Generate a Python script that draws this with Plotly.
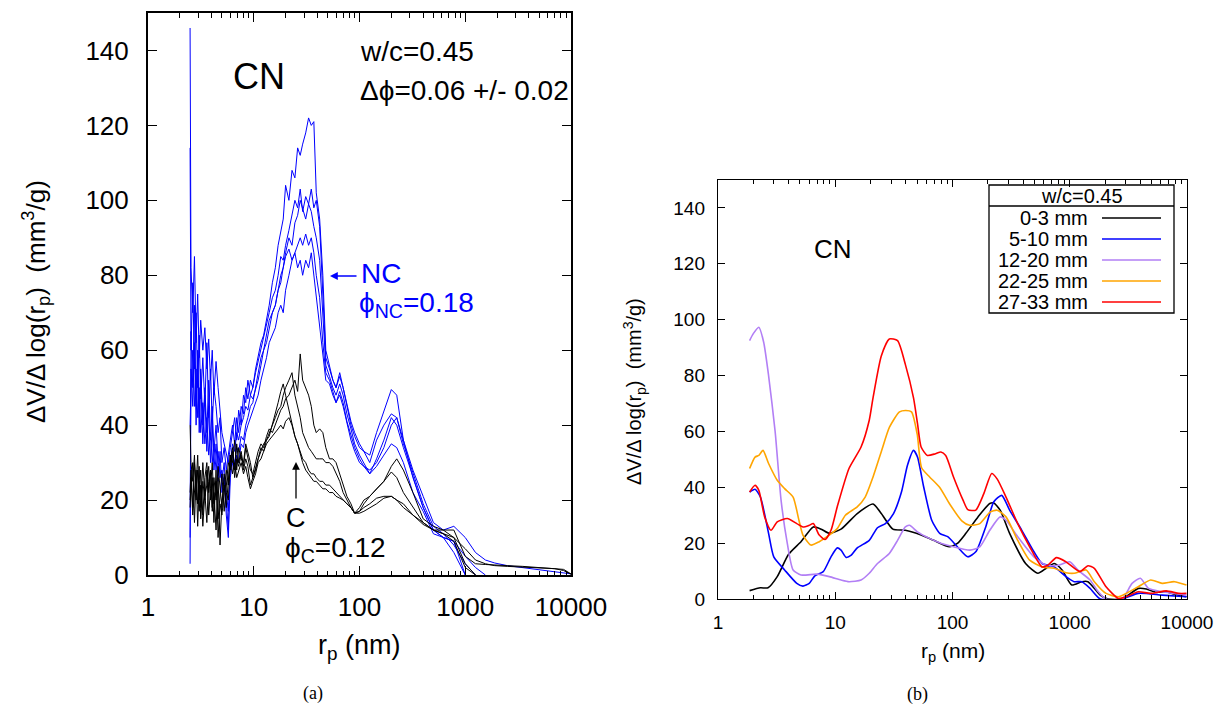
import plotly.graph_objects as go

# ---------------- data ----------------
# (a) pore-size distributions, mercury intrusion, 9 samples on a shared radius grid (nm)
r_left = [
    2.5, 2.55, 2.65, 2.75, 2.85, 2.95, 3.05, 3.15, 3.3, 3.45,
    3.6, 3.75, 3.9, 4.05, 4.2, 4.4, 4.6, 4.8, 5.0, 5.25,
    5.5, 5.75, 6.0, 6.3, 6.6, 6.9, 7.2, 7.6, 8.0, 8.4,
    8.8, 9.3, 9.8, 10.4, 11, 11.7, 12.4, 13.2, 14, 15,
    16, 17, 18, 19, 20, 21.5, 23, 24.5, 26, 27.5,
    29, 31, 33, 35, 37, 39, 42, 45, 48, 52,
    56, 60, 65, 70, 76, 83, 90, 100, 110, 125,
    145, 170, 200, 225, 260, 320, 400, 500, 620, 780,
    1000, 1250, 1550, 1900, 2500, 3500, 5000, 7000, 8500, 10000,
]
N = None

nc_1 = [
    146, 82, 70, 85, 62, 75, 58, 68, 60, 66,
    55, 63, 52, 60, 48, 57, 50, 44, 38, 35,
    32, 30, 34, 38, 42, 36, 44, 40, 48, 46,
    52, 48, 50, 55, 58, 62, 64, 68, 72, 78,
    82, 88, 92, 95, 104, 100, 108, 106, 114, 112,
    115, 118, 122, 120, 121, 102, 95, 80, 60, 56,
    52, 50, 54, 50, 45, 40, 37, 34, 33, 32,
    38, 44, 49.5, 48, 36, 26, 18, 12, 10, 6,
    0, N, N, N, N, N, N, N, N, N,
]
nc_2 = [
    114, 60, 78, 55, 70, 50, 64, 47, 58, 45,
    62, 42, 55, 40, 50, 45, 38, 42, 30, 34,
    28, 33, 36, 40, 35, 42, 38, 45, 43, 50,
    47, 52, 50, 54, 57, 60, 63, 66, 70, 74,
    76, 80, 85, 84, 88, 92, 96, 100, 98, 103,
    97, 101, 99, 103, 98, 100, 93, 76, 58, 55,
    52, 50, 53, 50, 46, 41, 38, 35, 33, 30,
    36, 40, 43, 42, 35, 27, 19, 13, 11, 8,
    3, 0, N, N, N, N, N, N, N, N,
]
nc_3 = [
    3, 65, 50, 72, 45, 60, 42, 55, 40, 50,
    38, 52, 36, 45, 33, 40, 30, 28, 25, 30,
    20, 12, 30, 35, 33, 38, 36, 40, 42, 45,
    44, 48, 47, 50, 52, 56, 60, 62, 66, 70,
    72, 76, 78, 82, 86, 90, 88, 94, 96, 100,
    98, 95, 99, 97, 93, 90, 84, 70, 56, 53,
    50, 48, 51, 48, 43, 39, 35, 32, 30, 27,
    31, 36, 42, 40, 34, 26, 18, 12, 10, 9,
    5, 2, 0, N, N, N, N, N, N, N,
]
nc_4 = [
    10, 55, 45, 62, 40, 58, 38, 52, 35, 48,
    33, 45, 30, 40, 28, 35, 25, 33, 22, 26,
    16, 10, 26, 30, 28, 32, 30, 35, 34, 38,
    40, 42, 44, 46, 48, 52, 55, 58, 62, 64,
    66, 70, 72, 70, 76, 80, 84, 86, 88, 90,
    88, 91, 88, 90, 86, 80, 74, 62, 54, 52,
    49, 46, 49, 46, 41, 37, 34, 31, 29, 27,
    29, 32, 35, 34, 30, 22, 17, 11, 10, 9,
    0, N, N, N, N, N, N, N, N, N,
]
nc_5 = [
    40, 50, 60, 45, 55, 42, 50, 38, 46, 35,
    42, 32, 38, 30, 35, 28, 33, 26, 28, 24,
    22, 17, 28, 32, 30, 34, 33, 37, 36, 40,
    42, 45, 46, 50, 53, 58, 60, 64, 68, 70,
    72, 76, 80, 82, 85, 87, 84, 86, 82, 84,
    80, 84, 82, 86, 80, 74, 66, 58, 52, 51,
    48, 46, 48, 45, 41, 36, 33, 30, 29, 28,
    30, 34, 40, 42, 36, 28, 21, 14, 12, 13,
    10, 6, 4, 3.2, 2.5, 2, 1.5, 1, 0.6, 0.3,
]
c_1 = [
    22, 28, 18, 30, 24, 32, 20, 28, 16, 26,
    30, 22, 28, 18, 26, 20, 29, 24, 18, 27,
    22, 20, 30, 34, 28, 35, 30, 33, 29, 34,
    31, 28, 27, 30, 33, 35, 34, 37, 39, 38,
    40, 42, 44, 45, 47, 48, 50, 52, 49, 59,
    52, 50, 48, 45, 40, 38, 39, 38, 34, 31,
    31, 30, 27, 24, 21, 19, 16.5, 17, 19, 21,
    23, 25, 29, 31, 28, 22, 15, 13, 12, 12,
    5, 3, 2.8, 2.6, 2.5, 2.3, 2, 1.8, 1.5, 0.3,
]
c_2 = [
    40, 30, 25, 32, 20, 28, 17, 24, 13, 22,
    14, 25, 28, 17, 22, 12, 26, 8, 20, 24,
    18, 26, 32, 30, 36, 28, 34, 31, 30, 35,
    33, 30, 26, 29, 31, 33, 35, 36, 38, 40,
    42, 44, 45, 48, 50, 52, 54, 48, 45, 42,
    38, 36, 34, 33, 32, 31, 31, 31, 30, 30,
    29, 27, 25, 22, 20, 18, 16.5, 18, 20, 21,
    23, 25, 27.5, 26, 22, 18, 14, 12, 12, 10,
    3, 0, N, N, N, N, N, N, N, N,
]
c_3 = [
    18, 24, 30, 14, 26, 19, 29, 15, 25, 20,
    28, 16, 23, 30, 19, 25, 15, 22, 27, 17,
    25, 30, 28, 33, 26, 31, 29, 32, 28, 31,
    29, 24, 26, 28, 31, 34, 33, 36, 37, 40,
    43, 46, 49, 51, 48, 44, 40, 37, 35, 33,
    31, 30, 28, 27, 27, 26, 25, 25, 24, 24,
    23, 22, 21, 20, 19, 18, 16.5, 17, 18, 19,
    20.5, 21, 21, 20, 19, 16, 13.5, 12, 11, 10,
    7, 4, 3, 2.5, 2.3, 2.1, 1.9, 1.7, 1.2, 0.2,
]
c_4 = [
    20, 26, 16, 22, 28, 13, 25, 18, 30, 21,
    24, 29, 20, 26, 14, 28, 10, 19, 16, 22,
    28, 24, 32, 27, 30, 26, 28, 30, 27, 29,
    26, 23, 25, 27, 30, 31, 33, 35, 36, 37,
    38, 39, 40, 39, 41, 42, 40, 37, 35, 32,
    30, 28, 27, 26, 25, 25, 24, 23, 23, 22,
    22, 21, 20.5, 20, 19, 18, 16.5, 16.5, 17, 18,
    19, 20.5, 21, 20, 18, 16, 14, 12, 11, 9,
    2, 0, N, N, N, N, N, N, N, N,
]

# (b) smoothed distributions by depth
depth_labels = ["0-3 mm", "5-10 mm", "12-20 mm", "22-25 mm", "27-33 mm"]
depth_colors = ["#000000", "#0000ff", "#b27ff5", "#ffa500", "#ff0000"]

d03_x = [1.86, 2.3, 2.67, 3.2, 4.0, 5.1, 6.5, 7.6, 8.9, 11.2, 15.4, 21, 24.7, 31, 39.6,
         54, 69, 94, 110, 130, 165, 208, 225, 255, 307, 420, 535, 630, 737, 860, 1040,
         1270, 1430, 1820, 2130, 2800, 3840, 4500, 5450, 6640, 7800, 9900]
d03_y = [3, 4, 4, 8, 16, 20.5, 25.8, 25, 23.5, 25, 30.6, 34, 30.6, 25, 24.6,
         22.9, 21, 18.7, 19.9, 23.5, 29.4, 34.2, 34.4, 31.8, 23.5, 12.7, 9.2, 11, 12.7, 10.4, 5,
         6.2, 6.2, 1.4, 0, 0, 3.8, 3.6, 2.4, 2.6, 1.7, 0.8]

d510_x = [1.86, 2.07, 2.3, 2.7, 2.99, 3.7, 4.7, 5.3, 6.0, 6.7, 7.9, 9.2, 10.4, 11.2, 12.4,
          13.7, 15.4, 19.5, 22.9, 26.8, 31.4, 36.7, 41.3, 46.5, 50.3, 56.8, 66.5, 77.8, 91,
          110, 135, 158, 192, 225, 263, 307, 390, 495, 580, 737, 930, 1090, 1270, 1490,
          1820, 2800, 3840, 6140, 9900]
d510_y = [38.3, 39.3, 36.5, 23.5, 15.1, 10.4, 5.6, 4.6, 5.6, 8.3, 9.8, 15.1, 18.3, 17.5, 14.9,
          15.7, 18.3, 21, 25.5, 27, 30.6, 38.3, 47.9, 53.2, 50.8, 40.1, 28.2, 23.5, 22.3,
          18.7, 15.1, 16.9, 25.8, 34.8, 37.1, 31.8, 24.6, 16.9, 12.7, 11.5, 8, 6.2, 6.2, 3.8,
          0, 0, 2, 1.4, 0.8]

d1220_x = [1.86, 2.0, 2.23, 2.45, 2.7, 3.07, 3.45, 3.9, 4.37, 5.1, 7.0, 8.9, 11.2, 13.1, 16.6,
           19.5, 22.9, 28.9, 34, 39.6, 43, 50.3, 63.5, 80.6, 102, 141, 171, 208, 255, 286,
           360, 495, 630, 800, 1000, 1170, 1490, 1750, 2040, 2800, 3400, 4000, 4700, 6140, 9900]
d1220_y = [92.5, 95, 97.3, 92, 80, 60, 35.4, 19.9, 10.4, 8.6, 8.9, 8, 6.8, 6.2, 6.8,
           9.2, 12.7, 16.3, 21, 25.8, 26.4, 24, 21.7, 19.9, 18.7, 17.5, 18.7, 24.6, 29.4, 28.2,
           22.3, 15.1, 12.1, 12.1, 13.3, 10.4, 6.8, 2.6, 0, 0, 5.6, 7.4, 3.8, 2.6, 1.4]

d2225_x = [1.86, 2.07, 2.23, 2.42, 2.7, 3.2, 3.7, 4.37, 4.9, 5.3, 6.2, 7.3, 8.5, 10.4, 12.2,
           15.4, 18, 21, 24.8, 29, 35.3, 40, 44.7, 50, 54.5, 63.8, 77.6, 94.6, 120, 140, 171,
           208, 240, 286, 360, 455, 580, 737, 930, 1090, 1380, 1620, 2040, 2600, 3030, 3840,
           4900, 6140, 7800, 9900]
d2225_y = [46.7, 50.8, 51.4, 53.2, 48.5, 42.5, 39.5, 36.5, 28.2, 22.9, 19.3, 20.5, 22.3, 25.2, 30,
           33, 36.5, 43.7, 53, 61.5, 67, 67.5, 67, 59, 47, 43.7, 40, 34, 28, 26.4, 27,
           31, 31.8, 29.4, 21, 13.9, 11.5, 11, 9.4, 9.2, 10.4, 6.2, 2, 0.8, 2, 4.4,
           6.8, 5.6, 6.2, 5]

d2733_x = [1.86, 2.07, 2.23, 2.5, 2.83, 3.2, 3.9, 4.7, 5.3, 6.0, 6.5, 7.3, 8.2, 9.2, 10.4,
           13.1, 16.6, 19.5, 21, 24.7, 28.9, 34, 39.6, 46.5, 50.3, 54, 61, 71.6, 79.6, 87.5,
           102, 123, 135, 158, 185, 216, 240, 286, 360, 455, 580, 650, 770, 930, 1220, 1430,
           1620, 2040, 2600, 3030, 3840, 4900, 6640, 8500, 9900]
d2733_y = [38.3, 40.7, 38.9, 29.4, 24.6, 27.6, 28.8, 27, 25.8, 26.4, 27, 22.9, 21.3, 24.6, 33,
           46.7, 54.4, 64, 72, 87, 93.1, 92.5, 84, 72, 62.8, 54.4, 51.4, 52, 52.6, 51.4,
           43.7, 35.4, 32, 31.8, 37.7, 44.9, 43, 36.5, 27, 18.7, 11.5, 12.1, 14.8, 13.3, 9.8, 11.9,
           11, 4.4, 0.2, 0.8, 2.6, 2, 2.9, 2, 2]

r_ticks = [1, 10, 100, 1000, 10000]
r_minor = [m * 10 ** e for e in range(4) for m in range(2, 10)]
v_ticks = [0, 20, 40, 60, 80, 100, 120, 140]

# ---------------- figure ----------------
W, H = 1230, 708
SANS = "Liberation Sans"
SERIF = "Liberation Serif"
BLUE = "#0000ff"


def fx(p):
    return p / W


def fy(p):
    return 1 - p / H


fig = go.Figure()

for ys in [nc_1, nc_2, nc_3, nc_4, nc_5]:
    fig.add_trace(go.Scatter(x=r_left, y=ys, mode="lines", line=dict(color=BLUE, width=1),
                             xaxis="x", yaxis="y", showlegend=False, connectgaps=False))
for ys in [c_1, c_2, c_3, c_4]:
    fig.add_trace(go.Scatter(x=r_left, y=ys, mode="lines", line=dict(color="black", width=1),
                             xaxis="x", yaxis="y", showlegend=False, connectgaps=False))

right_series = [(d03_x, d03_y), (d510_x, d510_y), (d1220_x, d1220_y),
                (d2225_x, d2225_y), (d2733_x, d2733_y)]
for (xs, ys), lab, col in zip(right_series, depth_labels, depth_colors):
    fig.add_trace(go.Scatter(x=xs, y=ys, mode="lines", name=lab,
                             line=dict(color=col, width=1.6, shape="spline", smoothing=0.6),
                             xaxis="x2", yaxis="y2", showlegend=False))


def xaxis(domain, anchor, fsize, lw, tlen, gap):
    return dict(type="log", domain=domain, anchor=anchor, range=[0, 4], automargin=False,
                tickmode="array", tickvals=r_ticks, ticktext=[str(v) for v in r_ticks],
                ticks="inside", ticklen=tlen, tickwidth=1.3, tickcolor="black",
                showline=True, linewidth=lw, linecolor="black", mirror="ticks",
                showgrid=False, zeroline=False, ticklabelstandoff=gap,
                tickfont=dict(family=SANS, size=fsize, color="black"),
                minor=dict(tickmode="array", tickvals=r_minor, ticks="inside",
                           ticklen=tlen * 0.5, tickwidth=1.1, tickcolor="black", showgrid=False))


def yaxis(domain, anchor, fsize, lw, tlen, gap):
    return dict(domain=domain, anchor=anchor, range=[0, 150], automargin=False,
                tickmode="array", tickvals=v_ticks,
                ticks="inside", ticklen=tlen, tickwidth=1.3, tickcolor="black",
                showline=True, linewidth=lw, linecolor="black", mirror="ticks",
                showgrid=False, zeroline=False, ticklabelstandoff=gap,
                tickfont=dict(family=SANS, size=fsize, color="black"))


ann = []


def txt(x, y, s, size, color="black", xanchor="center", angle=0, family=SANS):
    ann.append(dict(x=fx(x), y=fy(y), xref="paper", yref="paper", text=s, showarrow=False,
                    xanchor=xanchor, yanchor="middle", textangle=angle,
                    font=dict(family=family, size=size, color=color)))


# panel (a) texts
txt(259, 76, "CN", 36)
txt(358, 52, "w/c=0.45", 28, xanchor="left")
txt(358, 90, "Δϕ=0.06 +/- 0.02", 28, xanchor="left")
txt(359, 274, "NC", 28, color=BLUE, xanchor="left")
txt(357, 304, "ϕ<sub>NC</sub>=0.18", 28, color=BLUE, xanchor="left")
txt(296, 518, "C", 27)
txt(283, 549, "ϕ<sub>C</sub>=0.12", 28, xanchor="left")
txt(36, 302, "ΔV/Δ log(r<sub>p</sub>)  (mm<sup>3</sup>/g)", 26, angle=-90)
txt(359, 647, "r<sub>p</sub> (nm)", 27)
txt(313, 693, "(a)", 18, family=SERIF)

ann.append(dict(x=fx(330), y=fy(276), xref="paper", yref="paper", text="", showarrow=True,
                ax=28, ay=0, arrowhead=2, arrowsize=1.2, arrowwidth=1.3, arrowcolor=BLUE))
ann.append(dict(x=fx(296), y=fy(462), xref="paper", yref="paper", text="", showarrow=True,
                ax=0, ay=38, arrowhead=2, arrowsize=1.2, arrowwidth=1.3, arrowcolor="black"))

# panel (b) texts
txt(833, 249, "CN", 26)
txt(634, 392, "ΔV/Δ log(r<sub>p</sub>)  (mm<sup>3</sup>/g)", 20, angle=-90)
txt(953, 652, "r<sub>p</sub> (nm)", 21)
txt(917, 694, "(b)", 18, family=SERIF)

# legend for (b), drawn gnuplot style
shapes = [
    dict(type="rect", xref="paper", yref="paper", x0=fx(989), x1=fx(1174), y0=fy(313), y1=fy(185),
         line=dict(color="black", width=1.3)),
    dict(type="line", xref="paper", yref="paper", x0=fx(989), x1=fx(1174), y0=fy(206), y1=fy(206),
         line=dict(color="black", width=1.3)),
]
txt(1082, 196, "w/c=0.45", 20)
key_y = [218, 239, 260, 281, 302]
for lab, col, ky in zip(depth_labels, depth_colors, key_y):
    txt(1090, ky, lab, 20, xanchor="right")
    shapes.append(dict(type="line", xref="paper", yref="paper", x0=fx(1102), x1=fx(1161),
                       y0=fy(ky), y1=fy(ky), line=dict(color=col, width=1.6)))

fig.update_layout(
    width=W, height=H,
    margin=dict(l=0, r=0, t=0, b=0, autoexpand=False),
    paper_bgcolor="white", plot_bgcolor="white",
    xaxis=xaxis([fx(148), fx(571)], "y", 26, 2, 9, 8),
    yaxis=yaxis([fy(575), fy(13)], "x", 26, 2, 9, 12),
    xaxis2=xaxis([fx(718), fx(1187)], "y2", 19, 1.4, 7, 6),
    yaxis2=yaxis([fy(599), fy(180)], "x2", 19, 1.4, 7, 8),
    annotations=ann,
    shapes=shapes,
    showlegend=False,
)

# page body has a default 8px margin; drop it so the figure sits at the window corner
fig.write_html("out.html", config={"displayModeBar": False},
               post_script="document.body.style.margin='0';")
